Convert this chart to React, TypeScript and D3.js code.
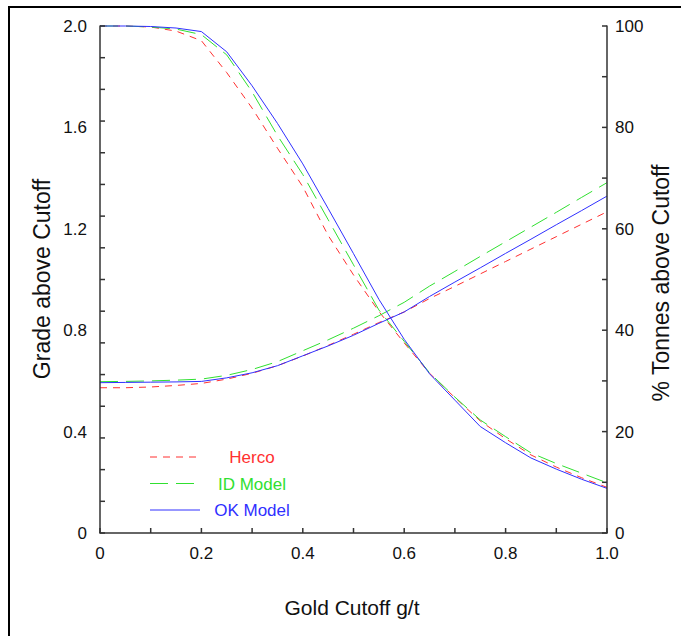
import React from 'react';
import {scaleLinear, line, range} from 'd3';

// gold cutoff (g/t) at which every curve was read
const cutoff = [0, 0.05, 0.1, 0.15, 0.2, 0.25, 0.3, 0.35, 0.4, 0.45, 0.5, 0.55, 0.6, 0.65, 0.7, 0.75, 0.8, 0.85, 0.9, 0.95, 1.0];

// % tonnes above cutoff (right axis)
const hercoTonnes = [100, 100, 99.8, 99.0, 97.1, 90.8, 83.8, 75.9, 68.3, 58.7, 50.9, 43.7, 37.5, 31.5, 26.7, 22.1, 18.6, 15.4, 13.0, 10.9, 9.0];
const idTonnes = [100, 100, 99.8, 99.4, 98.3, 94.3, 87.0, 78.4, 70.7, 61.8, 52.9, 44.0, 37.8, 31.6, 26.8, 22.3, 19.0, 15.8, 13.7, 11.8, 9.9];
const okTonnes = [100, 100, 99.9, 99.6, 98.9, 94.9, 88.2, 80.8, 72.8, 64.0, 55.1, 46.1, 38.2, 31.4, 26.2, 21.0, 17.8, 14.8, 12.6, 10.6, 8.8];

// grade above cutoff (left axis)
const hercoGrade = [0.573, 0.573, 0.576, 0.582, 0.59, 0.607, 0.63, 0.66, 0.698, 0.74, 0.784, 0.83, 0.872, 0.925, 0.973, 1.022, 1.071, 1.12, 1.169, 1.218, 1.267];
const idGrade = [0.597, 0.598, 0.6, 0.603, 0.607, 0.622, 0.645, 0.676, 0.719, 0.762, 0.808, 0.857, 0.91, 0.974, 1.032, 1.091, 1.149, 1.207, 1.265, 1.324, 1.382];
const okGrade = [0.593, 0.594, 0.595, 0.596, 0.598, 0.612, 0.632, 0.66, 0.699, 0.738, 0.78, 0.827, 0.872, 0.933, 0.99, 1.046, 1.103, 1.159, 1.216, 1.272, 1.329];

const xTickLabels = ['0', '0.2', '0.4', '0.6', '0.8', '1.0'];
const gradeTickLabels = ['0', '0.4', '0.8', '1.2', '1.6', '2.0'];
const tonnesTickLabels = ['0', '20', '40', '60', '80', '100'];

const series = [
  {name: 'Herco', tonnes: hercoTonnes, grade: hercoGrade, color: '#ff3030', dash: '7,6'},
  {name: 'ID Model', tonnes: idTonnes, grade: idGrade, color: '#30e030', dash: '18,8'},
  {name: 'OK Model', tonnes: okTonnes, grade: okGrade, color: '#3030ff', dash: null}
];

export default function App() {
  const width = 681;
  const height = 636;
  const left = 100, right = 607, top = 26, bottom = 533;

  const x = scaleLinear().domain([0, 1]).range([left, right]);
  const yGrade = scaleLinear().domain([0, 2]).range([bottom, top]);
  const yTonnes = scaleLinear().domain([0, 100]).range([bottom, top]);

  const axisColor = '#333';
  const font = '"Liberation Sans", Arial, Helvetica, sans-serif';

  return (
    <div style={{position: 'fixed', left: 0, top: 0}}>
      <svg width={width} height={height} style={{display: 'block', background: '#fff'}} fontFamily={font}>
        {/* outer frame, cut by the picture edge */}
        <rect x={9} y={7} width={700} height={660} fill="none" stroke="#000" strokeWidth={2} />

        {/* curves */}
        {series.map(s => {
          const tonnesLine = line<number>()
            .x((d, i) => x(cutoff[i]))
            .y(d => yTonnes(d));
          const gradeLine = line<number>()
            .x((d, i) => x(cutoff[i]))
            .y(d => yGrade(d));
          return (
            <g key={s.name} fill="none" stroke={s.color} strokeWidth={1} strokeDasharray={s.dash || undefined}>
              <path d={tonnesLine(s.tonnes) || ''} />
              <path d={gradeLine(s.grade) || ''} />
            </g>
          );
        })}

        {/* axes */}
        <g stroke={axisColor} strokeWidth={1.5} fill="none">
          <line x1={left} y1={top - 0.5} x2={left} y2={bottom} />
          <line x1={right} y1={top - 0.5} x2={right} y2={bottom} />
          <line x1={left - 0.75} y1={bottom} x2={right + 0.75} y2={bottom} />
          {range(0, 1.0001, 0.1).map((v, i) => (
            <line key={'xt' + i} x1={x(v)} y1={bottom} x2={x(v)} y2={bottom - 5} />
          ))}
          {range(0, 2.0001, 0.125).map((v, i) => (
            <line key={'gt' + i} x1={left} y1={yGrade(v)} x2={left + 5} y2={yGrade(v)} />
          ))}
          {range(0, 100.001, 10).map((v, i) => (
            <line key={'tt' + i} x1={right} y1={yTonnes(v)} x2={right - 5} y2={yTonnes(v)} />
          ))}
        </g>

        {/* tick labels */}
        <g fontSize={17} fill="#111">
          {xTickLabels.map(t => (
            <text key={'xl' + t} x={x(+t)} y={559} textAnchor="middle">{t}</text>
          ))}
          {gradeTickLabels.map(t => (
            <text key={'gl' + t} x={87} y={yGrade(+t) + 6} textAnchor="end">{t}</text>
          ))}
          {tonnesTickLabels.map(t => (
            <text key={'tl' + t} x={615} y={yTonnes(+t) + 6} textAnchor="start">{t}</text>
          ))}
        </g>

        {/* axis titles */}
        <g fill="#111" textAnchor="middle">
          <text x={352} y={615} fontSize={21}>Gold Cutoff g/t</text>
          <text transform="translate(50,279) rotate(-90)" fontSize={23}>Grade above Cutoff</text>
          <text transform="translate(669,283) rotate(-90)" fontSize={23}>% Tonnes above Cutoff</text>
        </g>

        {/* legend */}
        <g fontSize={17}>
          {series.map((s, i) => {
            const ly = 457 + i * 26.5;
            return (
              <g key={'lg' + s.name}>
                <line x1={150} y1={ly} x2={200} y2={ly} stroke={s.color} strokeWidth={1}
                  strokeDasharray={s.dash || undefined} />
                <text x={252} y={ly + 6} textAnchor="middle" fill={s.color}>{s.name}</text>
              </g>
            );
          })}
        </g>
      </svg>
    </div>
  );
}
